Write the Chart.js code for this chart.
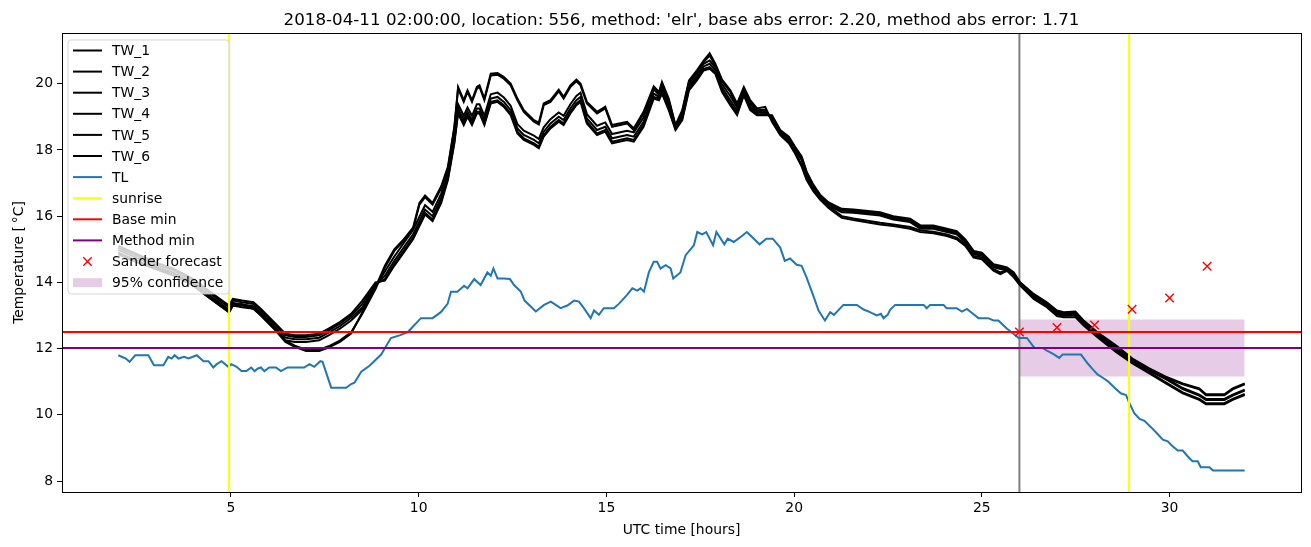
<!DOCTYPE html>
<html>
<head>
<meta charset="utf-8">
<title>TW / TL</title>
<script src="https://cdn.jsdelivr.net/npm/chart.js@4.4.0/dist/chart.umd.min.js"></script>
<style>
  html, body { margin: 0; padding: 0; background: #fff; }
  #wrap { width: 1311px; height: 547px; }
</style>
</head>
<body>
<div id="wrap"><canvas id="grafico" width="1311" height="547"></canvas></div>
<script>
// Dados
const titulo = "2018-04-11 02:00:00, location: 556, method: 'elr', base abs error: 2.20, method abs error: 1.71";

const twHoras = [
  2.0, 2.5, 3.0, 3.5, 4.0, 4.4, 4.7, 4.95, 5.05, 5.3, 5.6, 5.8, 6.15, 6.45, 6.7, 7.0, 7.35, 7.6, 7.9, 8.2,
  8.5, 8.85, 9.1, 9.35, 9.6, 9.85, 10.02, 10.17, 10.37, 10.6, 10.78, 10.95,
  11.05, 11.2, 11.3, 11.42, 11.55, 11.62, 11.75, 11.92,
  12.1, 12.27, 12.45, 12.63, 12.8, 13.07, 13.2, 13.33, 13.51, 13.73, 13.86,
  14.04, 14.2, 14.31, 14.48, 14.75, 14.97, 15.15, 15.55, 15.73, 15.99,
  16.26, 16.4, 16.48, 16.66, 16.84, 17.02, 17.2, 17.41, 17.59, 17.75, 17.9,
  18.08, 18.3, 18.48, 18.66, 18.83, 19.01, 19.23,
  19.41, 19.63, 19.86, 20.02, 20.2, 20.33, 20.51, 20.69, 20.91, 21.09,
  21.27, 21.58, 22.29, 22.64, 23.09, 23.36, 23.71, 24.07, 24.33, 24.56,
  24.78, 25.0, 25.31, 25.49, 25.67, 25.85, 26.02, 26.38, 26.73, 27.0,
  27.18, 27.49, 27.71, 28.07, 28.57, 29.01,
  29.46, 29.9, 30.35, 30.79, 30.97, 31.46, 31.68, 32.0
];

const tw1 = [
  14.85, 14.60, 14.40, 14.20, 13.90, 13.55, 13.30, 13.10, 13.30, 13.30, 13.20, 13.00, 12.60, 12.20, 12.05, 11.93, 11.93, 12.03, 12.20, 12.45,
  13.10, 13.85, 14.50, 15.00, 15.30, 15.65, 16.40, 16.62, 16.40, 16.90, 17.50, 18.70,
  19.90, 19.50, 19.80, 19.50, 19.90, 19.95, 19.55, 20.30,
  20.32, 20.20, 20.00, 19.55, 19.20, 18.90, 18.82, 19.40, 19.50, 19.82, 19.60,
  19.95, 20.12, 20.00, 19.45, 19.15, 19.30, 18.75, 18.85, 18.65, 19.15,
  19.92, 19.75, 20.05, 19.55, 18.75, 19.20, 20.10, 20.40, 20.70, 20.92, 20.60,
  20.12, 19.80, 19.40, 19.90, 19.50, 19.25, 19.30,
  18.85, 18.45, 18.20, 17.90, 17.50, 17.10, 16.75, 16.50, 16.25, 16.10,
  15.95, 15.88, 15.75, 15.70, 15.62, 15.52, 15.48, 15.40, 15.30, 15.10,
  14.75, 14.70, 14.35, 14.25, 14.35, 14.15, 13.90, 13.50, 13.25, 12.98,
  12.95, 12.95, 12.70, 12.35, 11.90, 11.55,
  11.25, 10.95, 10.65, 10.45, 10.32, 10.32, 10.45, 10.60
];
const tw2 = [
  14.89, 14.64, 14.44, 14.24, 13.94, 13.59, 13.34, 13.14, 13.34, 13.34, 13.24, 13.04, 12.64, 12.24, 12.09, 11.97, 11.97, 12.07, 12.24, 12.49,
  13.05, 13.80, 14.45, 14.95, 15.25, 15.60, 16.35, 16.57, 16.35, 16.85, 17.45, 18.65,
  19.85, 19.45, 19.75, 19.45, 19.85, 19.90, 19.50, 20.25,
  20.27, 20.15, 19.95, 19.50, 19.15, 18.85, 18.77, 19.35, 19.45, 19.77, 19.55,
  19.90, 20.07, 19.95, 19.40, 19.10, 19.25, 18.70, 18.80, 18.60, 19.10,
  19.87, 19.70, 20.00, 19.50, 18.72, 19.15, 20.05, 20.35, 20.65, 20.85, 20.55,
  20.07, 19.75, 19.35, 19.85, 19.45, 19.20, 19.22,
  18.90, 18.50, 18.25, 17.95, 17.55, 17.15, 16.80, 16.55, 16.30, 16.15,
  16.00, 15.93, 15.80, 15.75, 15.67, 15.57, 15.53, 15.45, 15.35, 15.15,
  14.80, 14.75, 14.40, 14.30, 14.38, 14.20, 13.93, 13.55, 13.30, 13.03,
  13.00, 13.00, 12.75, 12.40, 11.95, 11.60,
  11.28, 10.98, 10.68, 10.48, 10.35, 10.35, 10.48, 10.63
];
const tw3 = [
  14.90, 14.65, 14.40, 14.20, 13.90, 13.55, 13.30, 13.10, 13.30, 13.25, 13.20, 13.00, 12.60, 12.25, 12.20, 12.20, 12.25, 12.40, 12.60, 12.85,
  13.18, 13.88, 14.33, 14.78, 15.18, 15.58, 15.98, 16.33, 16.13, 16.68, 17.38, 18.48,
  19.38, 19.03, 19.28, 19.03, 19.38, 19.38, 19.03, 19.68,
  19.73, 19.58, 19.33, 18.78, 18.58, 18.43, 18.33, 18.68, 18.93, 19.13, 19.03,
  19.38, 19.63, 19.73, 19.08, 18.73, 18.83, 18.48, 18.58, 18.53, 18.98,
  19.83, 19.66, 19.95, 19.45, 18.70, 19.10, 20.00, 20.30, 20.60, 20.70, 20.50,
  19.98, 19.63, 19.28, 19.80, 19.40, 19.17, 19.18,
  18.95, 18.50, 18.30, 18.00, 17.70, 17.25, 16.85, 16.55, 16.32, 16.22,
  16.12, 16.10, 16.02, 15.90, 15.82, 15.62, 15.62, 15.52, 15.45, 15.20,
  14.85, 14.80, 14.45, 14.40, 14.38, 14.20, 13.92, 13.55, 13.30, 13.05,
  13.00, 13.02, 12.75, 12.40, 12.00, 11.60,
  11.33, 11.08, 10.78, 10.58, 10.45, 10.45, 10.58, 10.73
];
const tw4 = [
  14.98, 14.73, 14.48, 14.28, 13.98, 13.63, 13.38, 13.18, 13.38, 13.33, 13.28, 13.08, 12.68, 12.33, 12.28, 12.28, 12.33, 12.48, 12.68, 12.93,
  13.25, 13.90, 14.20, 14.65, 15.05, 15.45, 15.85, 16.20, 16.00, 16.55, 17.25, 18.35,
  19.25, 18.90, 19.15, 18.90, 19.25, 19.25, 18.90, 19.55,
  19.60, 19.45, 19.20, 18.65, 18.45, 18.30, 18.20, 18.55, 18.80, 19.00, 18.90,
  19.25, 19.50, 19.60, 18.95, 18.60, 18.70, 18.35, 18.45, 18.40, 18.85,
  19.70, 19.60, 19.85, 19.35, 18.66, 19.02, 19.92, 20.22, 20.52, 20.60, 20.42,
  19.88, 19.50, 19.18, 19.74, 19.32, 19.12, 19.12,
  18.99, 18.54, 18.34, 18.04, 17.74, 17.29, 16.89, 16.59, 16.36, 16.26,
  16.16, 16.14, 16.06, 15.94, 15.86, 15.66, 15.66, 15.56, 15.49, 15.24,
  14.89, 14.84, 14.49, 14.44, 14.41, 14.24, 13.95, 13.59, 13.34, 13.09,
  13.04, 13.06, 12.79, 12.44, 12.04, 11.64,
  11.36, 11.11, 10.81, 10.61, 10.48, 10.48, 10.61, 10.76
];
const tw5 = [
  15.05, 14.80, 14.55, 14.35, 14.05, 13.70, 13.45, 13.25, 13.45, 13.40, 13.35, 13.15, 12.75, 12.40, 12.35, 12.35, 12.40, 12.55, 12.75, 13.00,
  13.35, 13.95, 14.10, 14.55, 14.95, 15.35, 15.75, 16.10, 15.90, 16.45, 17.15, 18.25,
  19.15, 18.80, 19.05, 18.80, 19.15, 19.15, 18.80, 19.45,
  19.50, 19.35, 19.10, 18.55, 18.35, 18.20, 18.10, 18.45, 18.70, 18.90, 18.80,
  19.15, 19.40, 19.50, 18.85, 18.50, 18.60, 18.25, 18.35, 18.30, 18.75,
  19.60, 19.55, 19.75, 19.25, 18.63, 18.95, 19.85, 20.15, 20.45, 20.50, 20.35,
  19.80, 19.40, 19.10, 19.68, 19.25, 19.08, 19.08,
  19.02, 18.57, 18.37, 18.07, 17.77, 17.32, 16.92, 16.62, 16.39, 16.29,
  16.19, 16.17, 16.09, 15.97, 15.89, 15.69, 15.69, 15.59, 15.52, 15.27,
  14.92, 14.87, 14.52, 14.47, 14.43, 14.27, 13.97, 13.62, 13.37, 13.12,
  13.07, 13.09, 12.82, 12.47, 12.07, 11.67,
  11.37, 11.12, 10.92, 10.77, 10.59, 10.59, 10.77, 10.92
];
const tw6 = [
  15.10, 14.85, 14.60, 14.40, 14.10, 13.75, 13.50, 13.30, 13.50, 13.45, 13.40, 13.20, 12.80, 12.45, 12.40, 12.40, 12.45, 12.60, 12.80, 13.05,
  13.45, 14.00, 14.05, 14.50, 14.90, 15.30, 15.70, 16.05, 15.85, 16.40, 17.10, 18.20,
  19.10, 18.75, 19.00, 18.75, 19.10, 19.10, 18.75, 19.40,
  19.45, 19.30, 19.05, 18.50, 18.30, 18.15, 18.05, 18.40, 18.65, 18.85, 18.75,
  19.10, 19.35, 19.45, 18.80, 18.45, 18.55, 18.20, 18.30, 18.25, 18.70,
  19.55, 19.50, 19.70, 19.20, 18.60, 18.90, 19.80, 20.10, 20.40, 20.45, 20.30,
  19.75, 19.35, 19.05, 19.65, 19.20, 19.05, 19.05,
  19.05, 18.60, 18.40, 18.10, 17.80, 17.35, 16.95, 16.65, 16.42, 16.32,
  16.22, 16.20, 16.12, 16.00, 15.92, 15.72, 15.72, 15.62, 15.55, 15.30,
  14.95, 14.90, 14.55, 14.50, 14.45, 14.30, 14.00, 13.65, 13.40, 13.15,
  13.10, 13.12, 12.85, 12.50, 12.10, 11.70,
  11.40, 11.15, 10.95, 10.80, 10.62, 10.62, 10.80, 10.95
];

const tlHoras = [
  2.0, 2.2, 2.3, 2.45, 2.8, 2.95, 3.2, 3.33, 3.42, 3.5, 3.6, 3.75, 3.87, 4.09, 4.27, 4.4, 4.53, 4.62, 4.75, 4.93,
  5.01, 5.15, 5.28, 5.41, 5.54, 5.63, 5.72, 5.8, 5.89, 6.02, 6.2, 6.33, 6.51, 6.95, 7.09, 7.22, 7.38, 7.44, 7.67, 8.07,
  8.2, 8.29, 8.47, 8.69, 9.0, 9.26, 9.49, 9.71, 10.06, 10.37, 10.59, 10.77, 10.86, 11.03, 11.21, 11.3, 11.48, 11.65, 11.83, 11.92,
  11.99, 12.1, 12.27, 12.43, 12.54, 12.72, 12.82, 13.12, 13.34, 13.52, 13.65, 13.78, 13.96, 14.14, 14.27, 14.4, 14.58, 14.67, 14.8, 14.93,
  15.2, 15.33, 15.55, 15.69, 15.82, 15.91, 16.0, 16.13, 16.26, 16.35, 16.44, 16.58, 16.71, 16.78, 16.97, 17.11, 17.33, 17.42, 17.55, 17.66,
  17.84, 17.93, 18.14, 18.23, 18.39, 18.55, 18.74, 19.08, 19.26, 19.43, 19.63, 19.75, 19.89, 20.07, 20.2, 20.33, 20.51, 20.65, 20.82, 20.96,
  21.06, 21.31, 21.67, 21.85, 22.02, 22.2, 22.31, 22.38, 22.49, 22.56, 22.69, 23.45, 23.53, 23.62, 23.98, 24.06, 24.33, 24.47, 24.6, 24.73,
  24.91, 25.17, 25.31, 25.44, 25.53, 25.67, 25.84, 25.98, 26.2, 26.4, 26.62, 26.71, 26.93, 27.06, 27.15, 27.64, 27.82, 27.95, 28.08, 28.22,
  28.35, 28.48, 28.57, 28.7, 28.84, 28.93, 29.06, 29.2, 29.33, 29.51, 29.68, 29.82, 29.95, 30.08, 30.22, 30.35, 30.48, 30.61, 30.75, 30.83,
  31.06, 31.16, 32.0
];
const tl = [
  11.8, 11.7, 11.6, 11.8, 11.8, 11.5, 11.5, 11.75, 11.7, 11.8, 11.7, 11.75, 11.7, 11.8, 11.62, 11.62, 11.43, 11.53, 11.62, 11.45,
  11.53, 11.45, 11.32, 11.32, 11.43, 11.32, 11.4, 11.43, 11.32, 11.43, 11.43, 11.32, 11.43, 11.43, 11.53, 11.45, 11.62, 11.6, 10.82, 10.82,
  10.93, 10.97, 11.3, 11.48, 11.82, 12.32, 12.4, 12.5, 12.92, 12.92, 13.1, 13.35, 13.72, 13.72, 13.9, 13.82, 14.1, 13.92, 14.3, 14.2,
  14.42, 14.12, 14.12, 14.1, 13.92, 13.72, 13.45, 13.12, 13.32, 13.42, 13.32, 13.22, 13.3, 13.45, 13.42, 13.22, 12.92, 13.15, 13.02, 13.22,
  13.22, 13.35, 13.62, 13.82, 13.75, 13.82, 13.72, 14.3, 14.62, 14.62, 14.42, 14.52, 14.42, 14.12, 14.3, 14.82, 15.12, 15.52, 15.45, 15.52,
  15.12, 15.52, 15.15, 15.32, 15.22, 15.35, 15.52, 15.15, 15.32, 15.32, 15.05, 14.65, 14.72, 14.53, 14.5, 14.15, 13.6, 13.15, 12.85, 13.1,
  13.02, 13.32, 13.32, 13.18, 13.1, 13.0, 13.05, 12.92, 13.02, 13.18, 13.32, 13.32, 13.22, 13.32, 13.32, 13.22, 13.22, 13.12, 13.2, 13.08,
  12.92, 12.92, 12.85, 12.85, 12.75, 12.6, 12.45, 12.32, 12.32, 12.02, 12.02, 11.95, 11.82, 11.72, 11.82, 11.82, 11.55, 11.38, 11.22, 11.12,
  11.02, 10.88, 10.78, 10.65, 10.6, 10.35, 10.05, 9.88, 9.82, 9.62, 9.42, 9.25, 9.2, 9.05, 8.92, 8.92, 8.75, 8.6, 8.6, 8.42,
  8.42, 8.32, 8.32
];

const nascerSol = [4.95, 28.92];
const agora = 26;
const baseMin = 12.5;
const metodoMin = 12.02;
const previsaoHoras = [26, 27, 28, 29, 30, 31];
const previsao = [12.5, 12.64, 12.71, 13.19, 13.53, 14.49];
const confHoras = [26, 32];
const confBaixo = 11.16;
const confAlto = 12.88;

const xTicks = [5, 10, 15, 20, 25, 30];
const yTicks = [8, 10, 12, 14, 16, 18, 20];
const xLim = [0.5, 33.5];
const yLim = [7.67, 21.53];

// Auxiliares
const fonte = "'DejaVu Sans', sans-serif";
const pts = (xs, ys) => xs.map((x, i) => ({ x: x, y: ys[i] }));
const vertical = xs => {
  const d = [];
  xs.forEach((x, i) => {
    if (i > 0) d.push({ x: x, y: null });
    d.push({ x: x, y: yLim[0] }, { x: x, y: yLim[1] });
  });
  return d;
};
const horizontal = y => [{ x: xLim[0], y: y }, { x: xLim[1], y: y }];

function linha(label, data, cor, ordem) {
  return { label: label, data: data, borderColor: cor, backgroundColor: cor, borderWidth: 2,
    pointRadius: 0, fill: false, tension: 0, spanGaps: false, order: ordem, legenda: 'linha' };
}

const datasets = [
  linha('TW_1', pts(twHoras, tw1), '#000000', 10),
  linha('TW_2', pts(twHoras, tw2), '#000000', 10),
  linha('TW_3', pts(twHoras, tw3), '#000000', 10),
  linha('TW_4', pts(twHoras, tw4), '#000000', 10),
  linha('TW_5', pts(twHoras, tw5), '#000000', 10),
  linha('TW_6', pts(twHoras, tw6), '#000000', 10),
  linha('TL', pts(tlHoras, tl), '#1f77b4', 8),
  linha('sunrise', vertical(nascerSol), '#ffff00', 6),
  linha('Base min', horizontal(baseMin), '#ff0000', 4),
  linha('Method min', horizontal(metodoMin), '#800080', 3),
  { label: 'Sander forecast', data: pts(previsaoHoras, previsao), showLine: false,
    pointStyle: 'crossRot', pointRadius: 6, pointBorderWidth: 1.4, pointBorderColor: '#ff0000',
    pointBackgroundColor: '#ff0000', borderColor: '#ff0000', order: 0, legenda: 'marcador' },
  { label: '95% confidence', data: pts(confHoras, [confAlto, confAlto]), borderWidth: 0, pointRadius: 0,
    backgroundColor: 'rgba(128,0,128,0.2)', borderColor: 'rgba(0,0,0,0)', fill: { value: confBaixo },
    order: 20, legenda: 'area' },
  { label: '', data: vertical([agora]), borderColor: '#808080', borderWidth: 2, pointRadius: 0,
    fill: false, order: 15, legenda: null }
];

// Moldura, titulo, eixos e legenda
const extras = {
  id: 'extras',
  afterDatasetsDraw(chart) {
    const { ctx, chartArea: a } = chart;
    ctx.save();
    ctx.strokeStyle = '#000'; ctx.lineWidth = 1;
    ctx.strokeRect(Math.round(a.left) + 0.5, Math.round(a.top) + 0.5,
      Math.round(a.right - a.left), Math.round(a.bottom - a.top));
    ctx.restore();
  },
  afterDraw(chart) {
    const { ctx, chartArea: a } = chart;
    const cx = (a.left + a.right) / 2;
    ctx.save();
    ctx.fillStyle = '#000';
    ctx.textAlign = 'center';
    ctx.textBaseline = 'alphabetic';
    ctx.font = '16.7px ' + fonte;
    ctx.fillText(titulo, cx, 25);
    ctx.font = '13.9px ' + fonte;
    ctx.fillText('UTC time [hours]', cx, 534);
    ctx.translate(23, (a.top + a.bottom) / 2);
    ctx.rotate(-Math.PI / 2);
    ctx.fillText('Temperature [\u2009\u00b0C]', 0, 0);
    ctx.restore();

    // legenda
    const itens = chart.data.datasets.filter(d => d.legenda);
    const bx = 68, by = 40, bw = 161, bh = 254, r = 3;
    ctx.save();
    ctx.beginPath();
    ctx.moveTo(bx + r, by);
    ctx.arcTo(bx + bw, by, bx + bw, by + bh, r);
    ctx.arcTo(bx + bw, by + bh, bx, by + bh, r);
    ctx.arcTo(bx, by + bh, bx, by, r);
    ctx.arcTo(bx, by, bx + bw, by, r);
    ctx.closePath();
    ctx.fillStyle = 'rgba(255,255,255,0.8)';
    ctx.fill();
    ctx.strokeStyle = 'rgba(204,204,204,0.8)';
    ctx.lineWidth = 1;
    ctx.stroke();
    ctx.font = '13.9px ' + fonte;
    ctx.textAlign = 'left';
    ctx.textBaseline = 'middle';
    itens.forEach((d, i) => {
      const y = 50.5 + i * 21.1;
      if (d.legenda === 'linha') {
        ctx.strokeStyle = d.borderColor; ctx.lineWidth = 2;
        ctx.beginPath(); ctx.moveTo(73, y); ctx.lineTo(102, y); ctx.stroke();
      } else if (d.legenda === 'marcador') {
        const s = 4.2;
        ctx.strokeStyle = d.pointBorderColor; ctx.lineWidth = 1.4;
        ctx.beginPath();
        ctx.moveTo(87.5 - s, y - s); ctx.lineTo(87.5 + s, y + s);
        ctx.moveTo(87.5 - s, y + s); ctx.lineTo(87.5 + s, y - s);
        ctx.stroke();
      } else {
        ctx.fillStyle = d.backgroundColor;
        ctx.fillRect(73, y - 4.4, 29, 8.8);
      }
      ctx.fillStyle = '#000';
      ctx.fillText(d.label, 112, y + 1);
    });
    ctx.restore();
  }
};

const eixo = {
  grid: { drawOnChartArea: false, drawTicks: true, tickLength: 5, color: '#000', lineWidth: 1 },
  border: { display: false },
  ticks: { color: '#000', font: { family: fonte, size: 13.9 }, maxRotation: 0, autoSkip: false,
    callback: v => String(v) }
};

new Chart(document.getElementById('grafico'), {
  type: 'line',
  data: { datasets: datasets },
  options: {
    responsive: false,
    devicePixelRatio: 1,
    animation: false,
    events: [],
    layout: { padding: { top: 33, right: 10, left: 0, bottom: 0 } },
    plugins: { legend: { display: false }, tooltip: { enabled: false }, title: { display: false } },
    scales: {
      x: Object.assign({}, eixo, {
        type: 'linear', min: xLim[0], max: xLim[1],
        ticks: Object.assign({}, eixo.ticks, { padding: 3 }),
        afterBuildTicks: s => { s.ticks = xTicks.map(v => ({ value: v })); },
        afterFit: s => { s.height = 55; }
      }),
      y: Object.assign({}, eixo, {
        type: 'linear', min: yLim[0], max: yLim[1],
        ticks: Object.assign({}, eixo.ticks, { padding: 4 }),
        afterBuildTicks: s => { s.ticks = yTicks.map(v => ({ value: v })); },
        afterFit: s => { s.width = 62; }
      })
    }
  },
  plugins: [extras]
});
</script>
</body>
</html>
